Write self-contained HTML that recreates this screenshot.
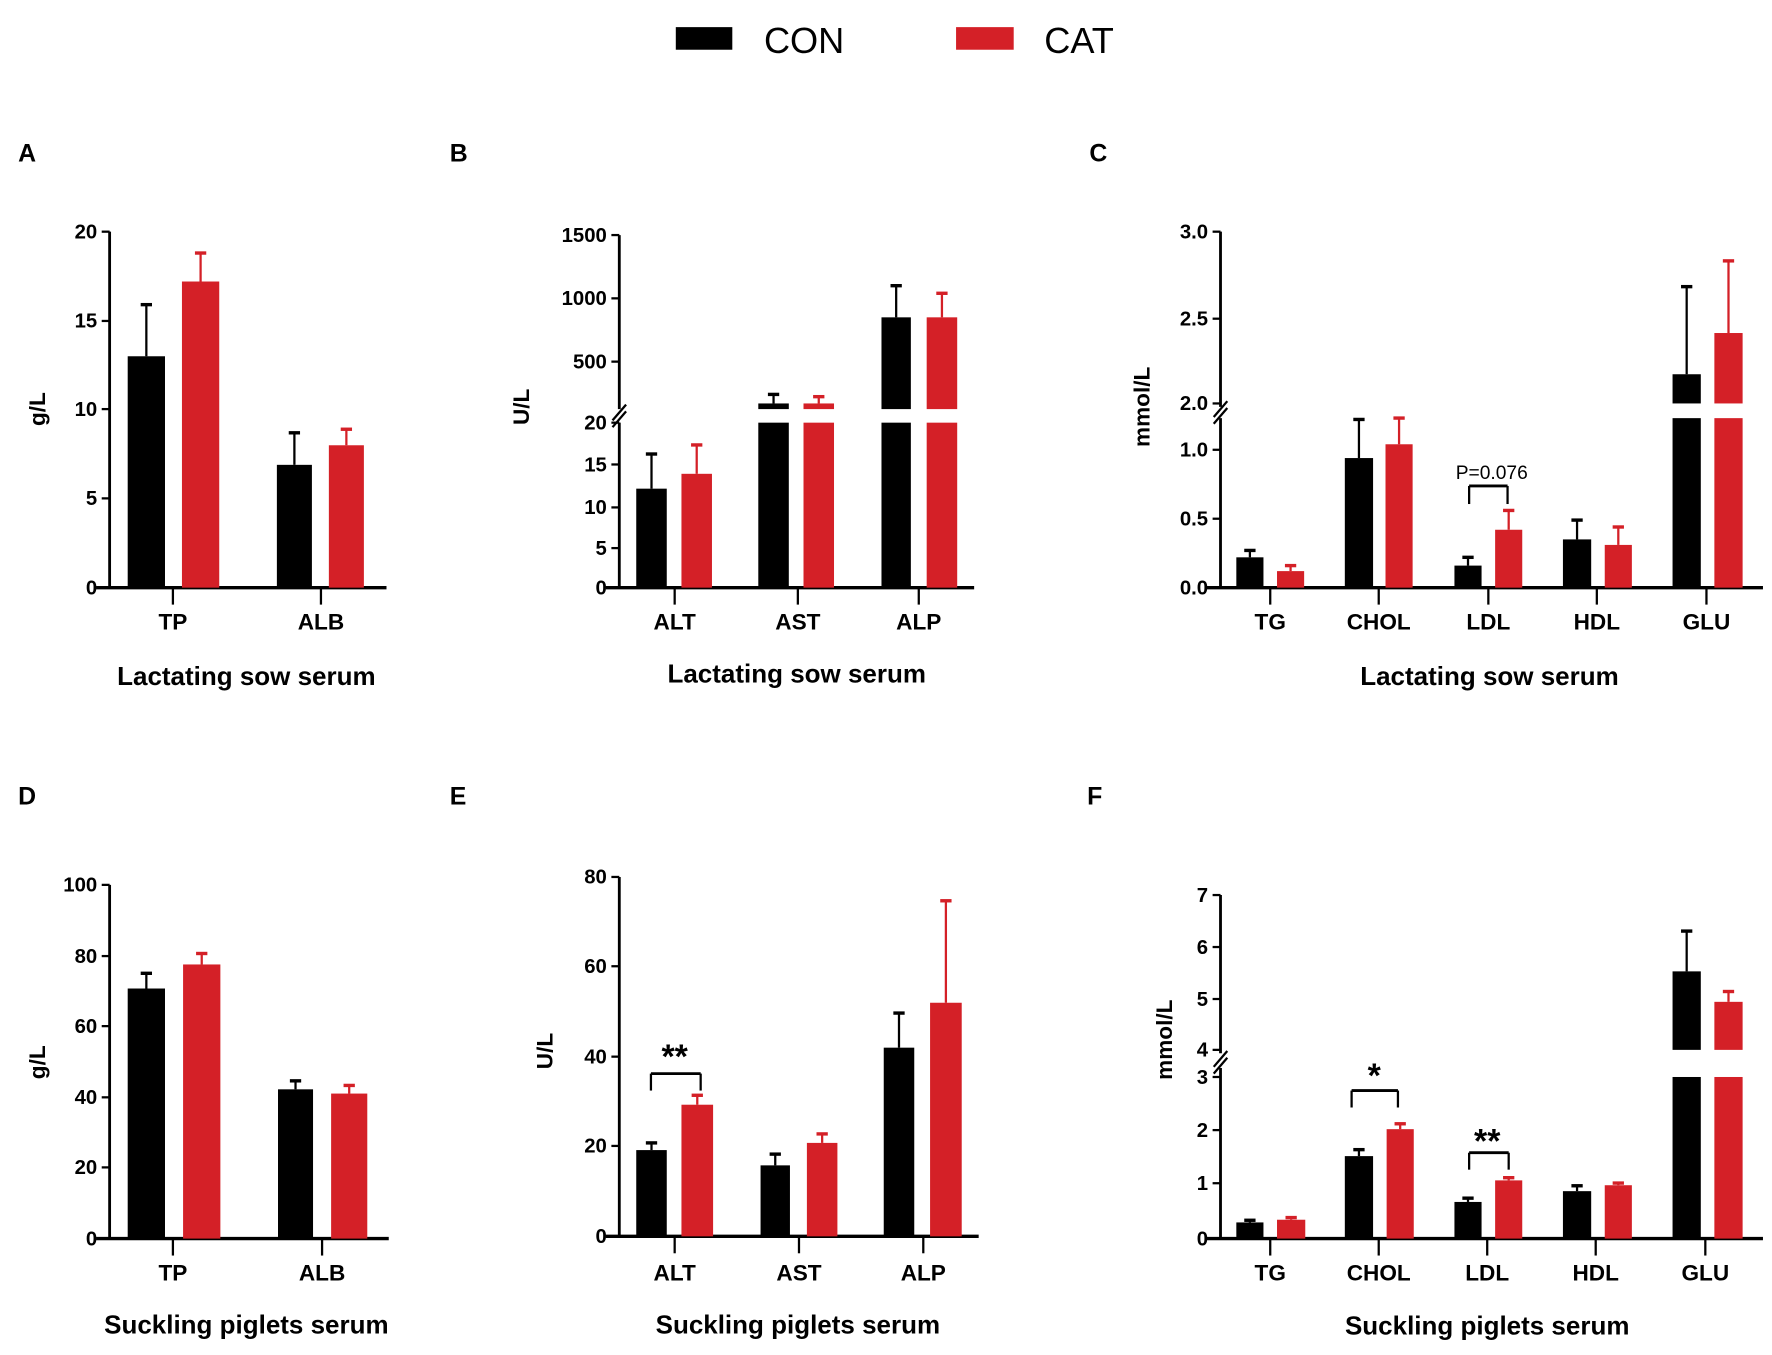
<!DOCTYPE html>
<html><head><meta charset="utf-8"><style>
html,body{margin:0;padding:0;background:#fff;}
svg{display:block;}
text{font-family:"Liberation Sans",sans-serif;fill:#000;}
.t{font-weight:bold;font-size:20px;}
.tt{font-weight:bold;font-size:23px;}
.lab{font-weight:bold;font-size:22px;}
.tk{font-weight:bold;font-size:18px;}
</style></head><body>
<svg id="s" width="1772" height="1355" viewBox="0 0 1568 1199" xmlns="http://www.w3.org/2000/svg">
<rect x="598" y="24" width="50" height="20" fill="#000"/>
<text x="676" y="47" font-size="32">CON</text>
<rect x="846" y="24" width="51" height="20" fill="#d42027"/>
<text x="924" y="47" font-size="32">CAT</text>

<text class="lab" x="16" y="143">A</text>
<text class="lab" x="398" y="143">B</text>
<text class="lab" x="964" y="143">C</text>
<text class="lab" x="16" y="712">D</text>
<text class="lab" x="398" y="712">E</text>
<text class="lab" x="962" y="712">F</text>

<!-- A -->
<g class="tk" text-anchor="end">
<text x="86" y="211">20</text><text x="86" y="290">15</text><text x="86" y="368">10</text><text x="86" y="447">5</text><text x="86" y="526">0</text>
<text x="537" y="214">1500</text><text x="537" y="270">1000</text><text x="537" y="326">500</text>
<text x="537" y="380">20</text><text x="537" y="417">15</text><text x="537" y="455">10</text><text x="537" y="491">5</text><text x="537" y="526">0</text>
<text x="1069" y="211">3.0</text><text x="1069" y="288">2.5</text><text x="1069" y="363">2.0</text><text x="1069" y="404">1.0</text><text x="1069" y="465">0.5</text><text x="1069" y="526">0.0</text>
<text x="86" y="789">100</text><text x="86" y="852">80</text><text x="86" y="914">60</text><text x="86" y="977">40</text><text x="86" y="1039">20</text><text x="86" y="1102">0</text>
<text x="537" y="782">80</text><text x="537" y="861">60</text><text x="537" y="941">40</text><text x="537" y="1020">20</text><text x="537" y="1100">0</text>
<text x="1069" y="798">7</text><text x="1069" y="844">6</text><text x="1069" y="890">5</text><text x="1069" y="935">4</text><text x="1069" y="959">3</text><text x="1069" y="1006">2</text><text x="1069" y="1053">1</text><text x="1069" y="1102">0</text>
</g>
<g class="t" text-anchor="middle">
<text x="153" y="557">TP</text><text x="284" y="557">ALB</text>
<text x="597" y="557">ALT</text><text x="706" y="557">AST</text><text x="813" y="557">ALP</text>
<text x="1124" y="557">TG</text><text x="1220" y="557">CHOL</text><text x="1317" y="557">LDL</text><text x="1413" y="557">HDL</text><text x="1510" y="557">GLU</text>
<text x="153" y="1133">TP</text><text x="285" y="1133">ALB</text>
<text x="597" y="1133">ALT</text><text x="707" y="1133">AST</text><text x="817" y="1133">ALP</text>
<text x="1124" y="1133">TG</text><text x="1220" y="1133">CHOL</text><text x="1316" y="1133">LDL</text><text x="1412" y="1133">HDL</text><text x="1509" y="1133">GLU</text>
</g>
<g class="tt" text-anchor="middle">
<text x="218" y="606">Lactating sow serum</text>
<text x="705" y="604">Lactating sow serum</text>
<text x="1318" y="606">Lactating sow serum</text>
<text x="218" y="1180">Suckling piglets serum</text>
<text x="706" y="1180">Suckling piglets serum</text>
<text x="1316" y="1181">Suckling piglets serum</text>
</g>
<g class="t" text-anchor="middle">
<text transform="translate(40,362) rotate(-90)">g/L</text>
<text transform="translate(468,360) rotate(-90)">U/L</text>
<text transform="translate(1017,360) rotate(-90)">mmol/L</text>
<text transform="translate(40,940) rotate(-90)">g/L</text>
<text transform="translate(489,930) rotate(-90)">U/L</text>
<text transform="translate(1037,920) rotate(-90)">mmol/L</text>
</g>
<text x="1320" y="424" font-size="17" text-anchor="middle">P=0.076</text>
<text x="597" y="945" font-size="30" font-weight="bold" text-anchor="middle">**</text>
<text x="1216" y="962" font-size="30" font-weight="bold" text-anchor="middle">*</text>
<text x="1316" y="1020" font-size="30" font-weight="bold" text-anchor="middle">**</text>
<g id="g"></g>
</svg>
<script>
var g=document.getElementById('g'),NS='http://www.w3.org/2000/svg',K='#000',R='#d42027';
function el(t,a){var e=document.createElementNS(NS,t);for(var k in a)e.setAttribute(k,a[k]);g.appendChild(e);}
function ln(x1,y1,x2,y2,c,w){el('line',{x1:x1,y1:y1,x2:x2,y2:y2,stroke:c||K,'stroke-width':w||2.5});}
function bar(x1,x2,yt,yb,c){el('rect',{x:x1,y:yt,width:x2-x1,height:yb-yt,fill:c});}
function err(x1,x2,yt,ye,c){var xc=(x1+x2)/2;ln(xc,yt,xc,ye,c,2);ln(xc-5,ye,xc+5,ye,c,3);}
function B(x1,x2,yt,ye,yb,c){err(x1,x2,yt,ye,c);bar(x1,x2,yt,yb,c);}
function axis(x,yt,yb,xl,xr,ticks,cats){ln(x,yt,x,yb);ln(xl,yb,xr,yb,K,3);ticks.forEach(function(t){ln(x-7,t,x,t,K,2);});cats.forEach(function(c){ln(c,yb,c,yb+15,K,2);});}
// A
var fA=function(v){return 520-v*15.75;};
axis(97,205,520,85,342,[205,284,362,441,520],[153,284]);
B(113,146,fA(13),fA(15.9),520,K);B(161,194,fA(17.2),fA(18.8),520,R);
B(245,276,fA(6.9),fA(8.7),520,K);B(291,322,fA(8.0),fA(8.9),520,R);
// B
var lB=function(v){return 520-v*7.3;},uB=function(v){return 320-(v-500)*0.112;};
ln(548,208,548,362);ln(548,374,548,520);ln(536,520,862,520,K,3);
[208,264,320,374,411,449,485,520].forEach(function(t){ln(541,t,548,t,K,2);});
[597,706,813].forEach(function(c){ln(c,520,c,535,K,2);});
ln(542,372,554,358,K,2);ln(542,378,554,364,K,2);
B(563,590,lB(12),lB(16.2),520,K);B(603,630,lB(13.8),lB(17.3),520,R);
bar(671,698,374,520,K);bar(711,738,374,520,R);
B(671,698,357,349,362,K);B(711,738,357,351,362,R);
bar(780,806,374,520,K);bar(820,847,374,520,R);
B(780,806,uB(850),uB(1100),362,K);B(820,847,uB(850),uB(1040),362,R);
// C
var lC=function(v){return 520-v*122;},uC=function(v){return 357-(v-2)*152;};
ln(1080,205,1080,360);ln(1080,370,1080,520);ln(1068,520,1560,520,K,3);
[205,282,357,398,459,520].forEach(function(t){ln(1073,t,1080,t,K,2);});
[1124,1220,1317,1413,1510].forEach(function(c){ln(c,520,c,535,K,2);});
ln(1074,369,1086,355,K,2);ln(1074,375,1086,361,K,2);
B(1094,1118,lC(.22),lC(.27),520,K);B(1130,1154,lC(.12),lC(.16),520,R);
B(1190,1215,lC(.94),lC(1.22),520,K);B(1226,1250,lC(1.04),lC(1.23),520,R);
B(1287,1311,lC(.16),lC(.22),520,K);B(1323,1347,lC(.42),lC(.56),520,R);
B(1383,1408,lC(.35),lC(.49),520,K);B(1420,1444,lC(.31),lC(.44),520,R);
bar(1480,1505,370,520,K);bar(1517,1542,370,520,R);
B(1480,1505,uC(2.17),uC(2.68),357,K);B(1517,1542,uC(2.41),uC(2.83),357,R);
ln(1300,446,1300,430,K,2);ln(1300,430,1334,430,K,2.5);ln(1334,430,1334,446,K,2);
// D
var fD=function(v){return 1096-v*3.13;};
axis(97,783,1096,85,344,[783,846,908,971,1033,1096],[153,285]);
B(113,146,fD(70.7),fD(75),1096,K);B(162,195,fD(77.5),fD(80.6),1096,R);
B(246,277,fD(42.2),fD(44.6),1096,K);B(293,325,fD(41),fD(43.3),1096,R);
// E
var fE=function(v){return 1094-v*3.975;};
axis(548,776,1094,536,866,[776,855,935,1014,1094],[597,707,817]);
B(563,590,fE(19.2),fE(20.8),1094,K);B(603,631,fE(29.3),fE(31.4),1094,R);
B(673,699,fE(15.8),fE(18.3),1094,K);B(714,741,fE(20.8),fE(22.8),1094,R);
B(782,809,fE(42),fE(49.7),1094,K);B(823,851,fE(52),fE(74.7),1094,R);
ln(576,965,576,950,K,2);ln(576,950,620,950,K,2.5);ln(620,950,620,965,K,2);
// F
var lF=function(v){return 1096-v*47.7;},uF=function(v){return 929-(v-4)*45.7;};
ln(1080,792,1080,932);ln(1080,945,1080,1096);ln(1068,1096,1560,1096,K,3);
[792,838,884,929,953,1000,1047,1096].forEach(function(t){ln(1073,t,1080,t,K,2);});
[1124,1220,1316,1412,1509].forEach(function(c){ln(c,1096,c,1111,K,2);});
ln(1074,944,1086,930,K,2);ln(1074,950,1086,936,K,2);
B(1094,1118,lF(.3),lF(.34),1096,K);B(1130,1155,lF(.35),lF(.39),1096,R);
B(1190,1215,lF(1.53),lF(1.65),1096,K);B(1227,1251,lF(2.03),lF(2.13),1096,R);
B(1287,1311,lF(.68),lF(.75),1096,K);B(1323,1347,lF(1.08),lF(1.13),1096,R);
B(1383,1408,lF(.88),lF(.98),1096,K);B(1420,1444,lF(.99),lF(1.03),1096,R);
bar(1480,1505,953,1096,K);bar(1517,1542,953,1096,R);
B(1480,1505,uF(5.52),uF(6.3),929,K);B(1517,1542,uF(4.93),uF(5.13),929,R);
ln(1196,980,1196,965,K,2);ln(1196,965,1237,965,K,2.5);ln(1237,965,1237,980,K,2);
ln(1300,1035,1300,1020,K,2);ln(1300,1020,1335,1020,K,2.5);ln(1335,1020,1335,1035,K,2);
</script>
</body></html>
